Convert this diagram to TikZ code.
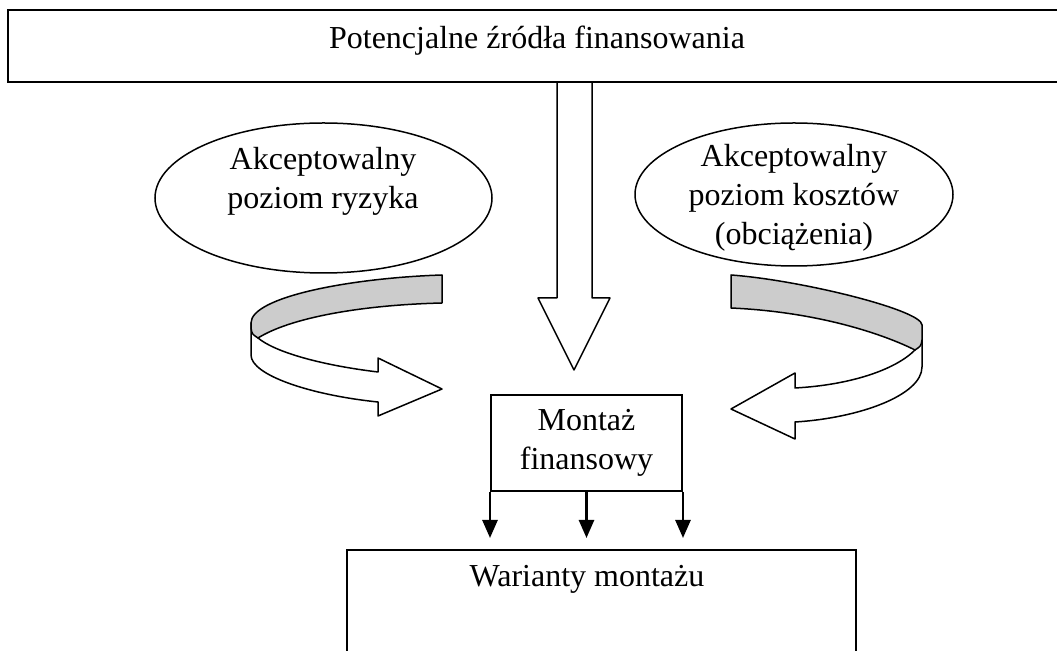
\documentclass[tikz,border=0pt]{standalone}
\usepackage{fontspec}
\setmainfont{Liberation Serif}
\usetikzlibrary{shapes.geometric,arrows.meta}
\definecolor{szary}{gray}{0.8}
\begin{document}
\begin{tikzpicture}[x=0.5pt,y=-0.5pt,>={Triangle[width=7.5pt,length=9pt]},
        font=\fontsize{16}{19.5}\selectfont,
        blok/.style={draw,line width=1pt,inner sep=0pt,align=center},
        owal/.style={draw,ellipse,line width=0.75pt,inner sep=0pt},
        napis/.style={align=center,inner sep=0pt},
        wstega/.style={draw,line width=0.75pt,line join=round}]
        \useasboundingbox (0,0) rectangle (1057,651);
        \clip (0,0) rectangle (1057,651);
        % Nodes
        \node[blok,minimum width=529pt,minimum height=36pt,text depth=8.5pt] (zrodla) at (537,46) {Potencjalne źródła finansowania};
        \node[owal,minimum width=168.5pt,minimum height=75pt] (ryzyko) at (323.5,198) {};
        \node[napis] (ryzykotekst) at (323,181) {Akceptowalny\\poziom ryzyka};
        \node[owal,minimum width=159pt,minimum height=71.5pt] (koszty) at (794,194.5) {};
        \node[napis] (kosztytekst) at (794,198) {Akceptowalny\\poziom kosztów\\(obciążenia)};
        \node[blok,minimum width=95.5pt,minimum height=48pt] (montaz) at (586.5,443) {Montaż\\finansowy};
        \node[blok,minimum width=254.5pt,minimum height=70pt,anchor=north] (warianty) at (601.5,549) {};
        \node[anchor=base,inner sep=0pt] (wariantytekst) at (587,587) {Warianty montażu};
        % Block arrow
        \draw[line width=0.75pt,line join=round] (557,82) -- (557,298) -- (538,298) -- (574,370) -- (610,298) -- (592,298) -- (592,82);
        % Left ribbon
        \draw[wstega,fill=white] (251,323) -- (251,355) .. controls (251,375) and (310,395) .. (378,402) -- (378,416) -- (442,389) -- (378,358) -- (378,372) .. controls (320,365) and (275,352) .. (258,338) -- cycle;
        \draw[wstega,fill=szary] (442,275) .. controls (350,278) and (251,297) .. (251,323) -- (251,328) .. controls (252,334) .. (258,338) .. controls (290,318) and (360,305) .. (442,303) -- cycle;
        % Right ribbon
        \draw[wstega,fill=white] (922,325) -- (922,367) .. controls (922,395) and (860,418) .. (795,422) -- (795,439) -- (731,409) -- (795,373) -- (795,388) .. controls (850,385) and (895,370) .. (915,350) -- cycle;
        \draw[wstega,fill=szary] (731,275) .. controls (800,280) and (922,310) .. (922,325) -- (922,340) .. controls (921,346) .. (915,350) .. controls (885,335) and (820,312) .. (731,308) -- cycle;
        % Arrows
        \foreach \kotwica in {south west,south,south east}
            \draw[->,line width=1.3pt,shorten >=5.5pt] (montaz.\kotwica) -- (montaz.\kotwica |- warianty.north);
    \end{tikzpicture}
\end{document}
